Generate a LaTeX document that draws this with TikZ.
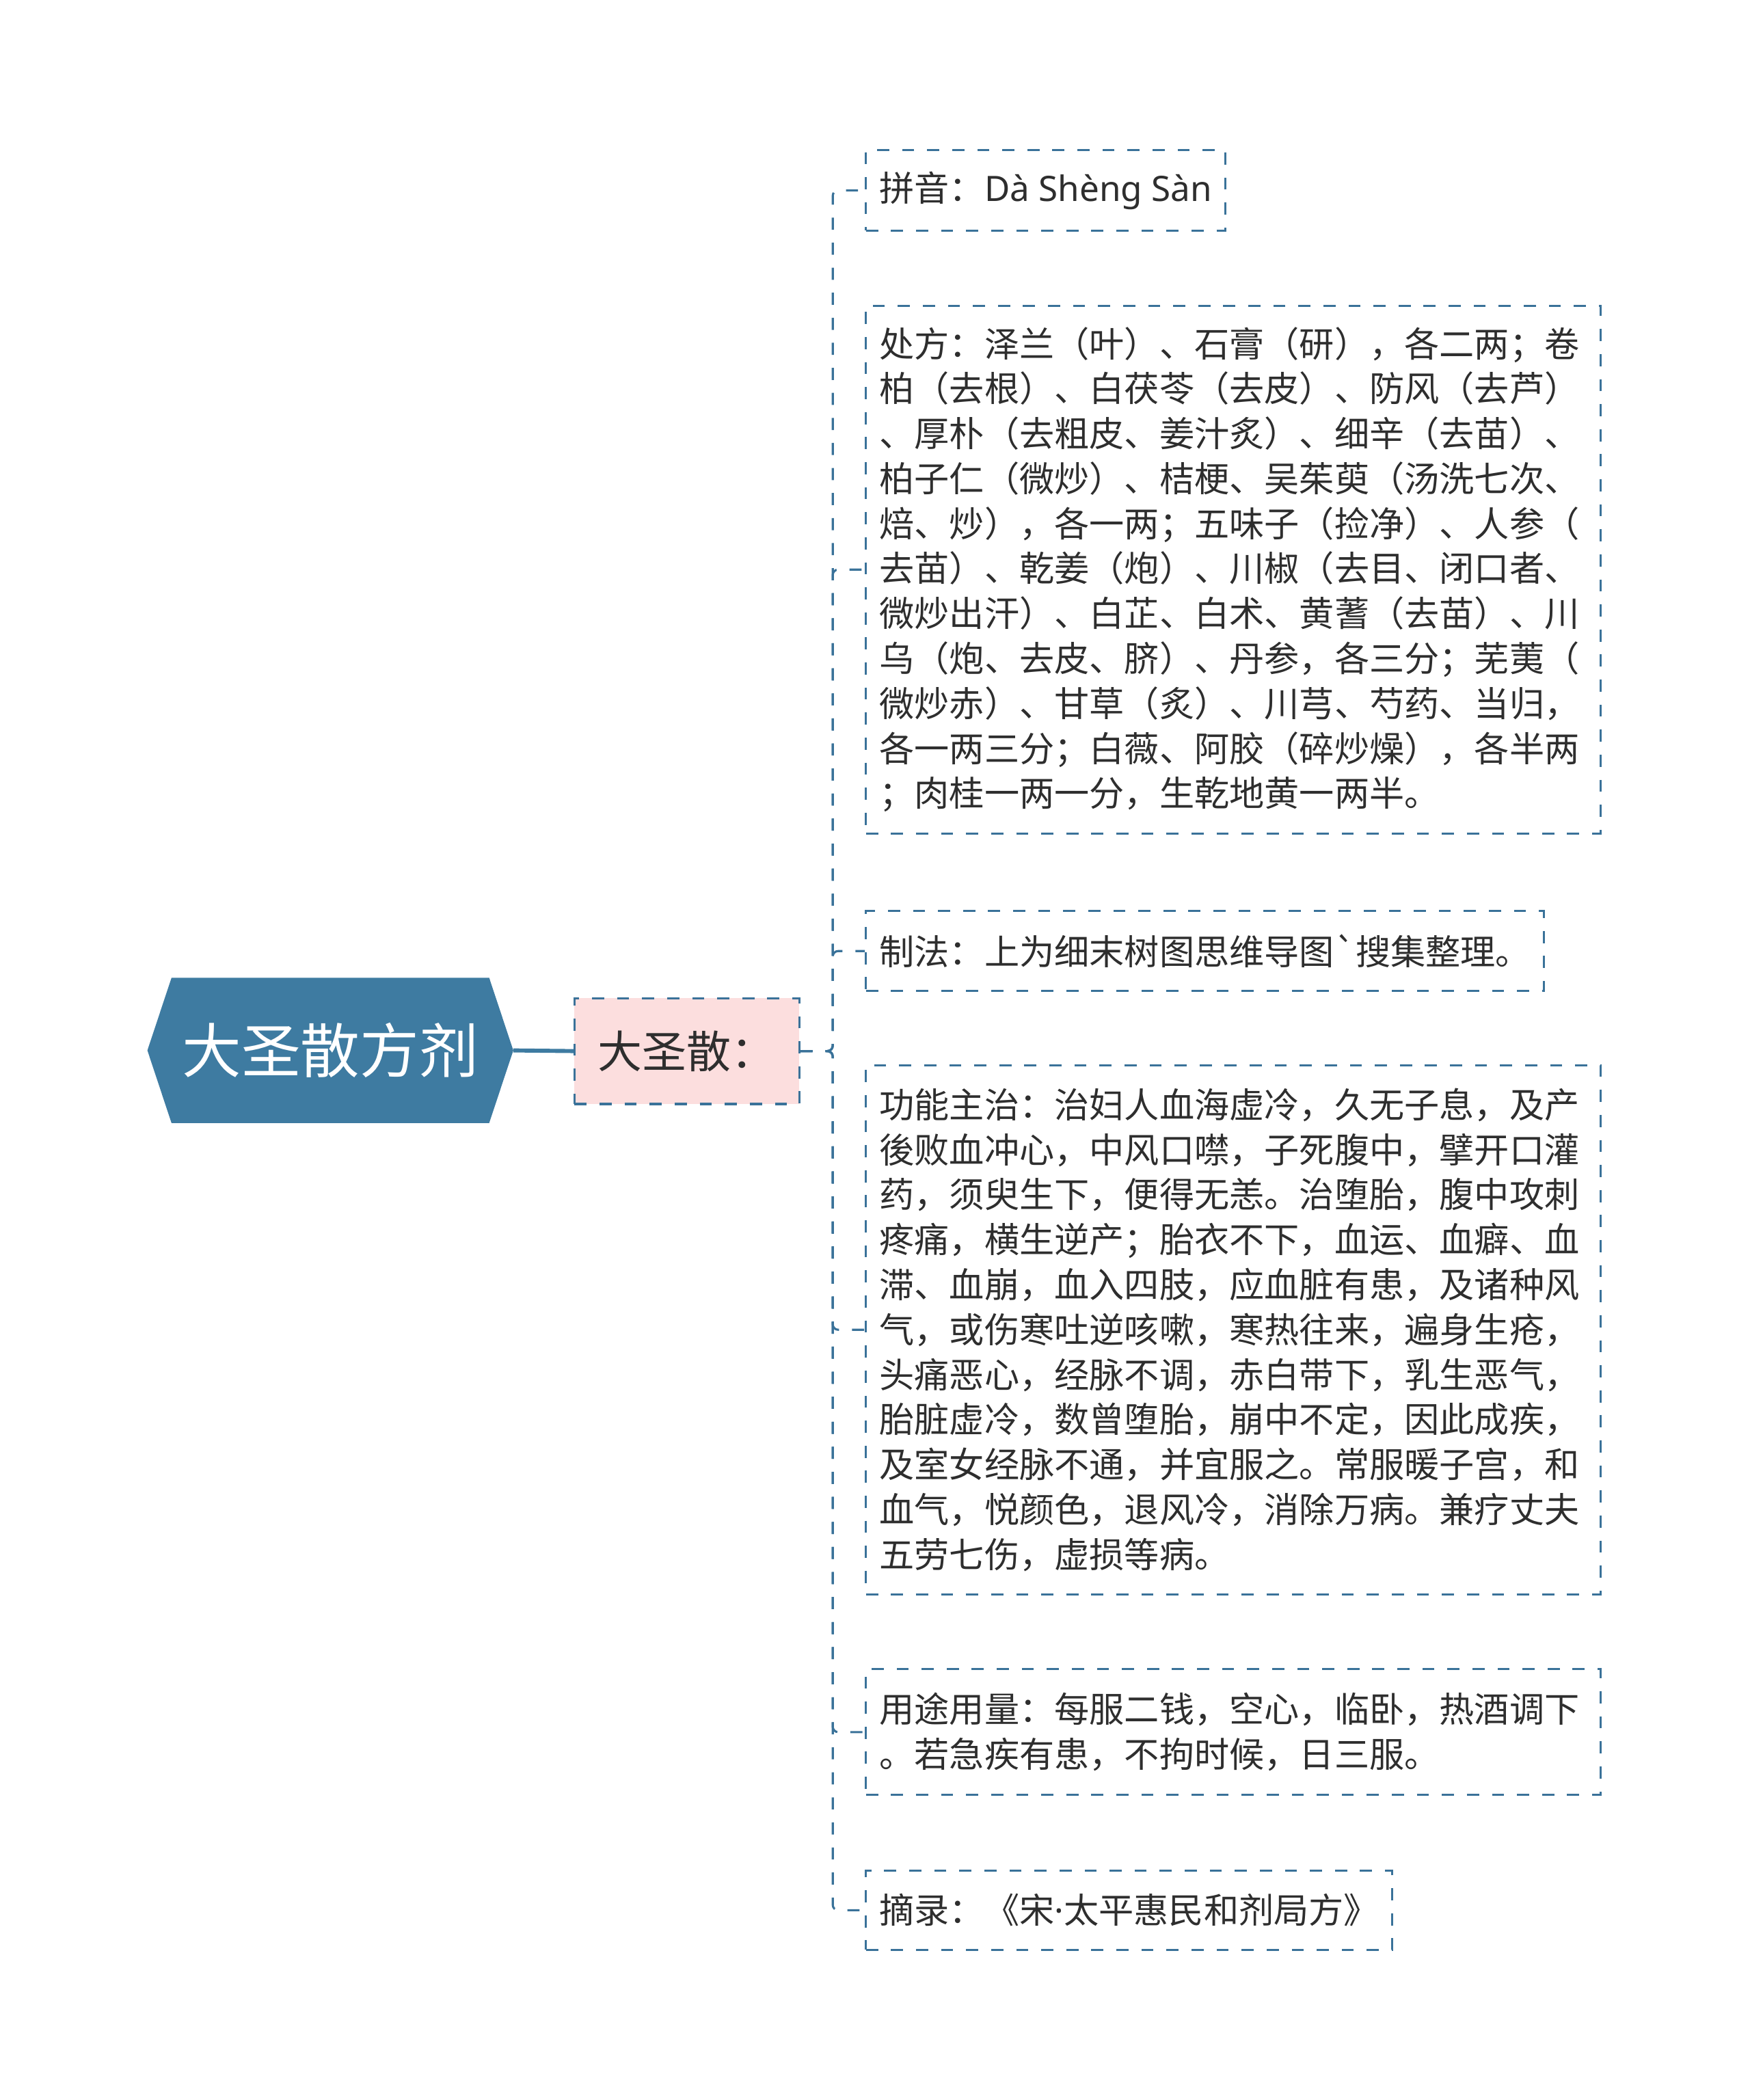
\documentclass[tikz,border=0pt]{standalone}
\usepackage{fontspec}
\setmainfont{Noto Sans CJK SC}
\newfontfamily\latinfont{Noto Sans}
\usetikzlibrary{calc}
\definecolor{mblue}{HTML}{3E7BA1}
\definecolor{dblue}{HTML}{3A7299}
\definecolor{mpink}{HTML}{FCDEDE}
\definecolor{txt}{HTML}{2E2E2E}
\newcommand{\rawgrave}{\XeTeXglyph\XeTeXcharglyph"60\relax}
\begin{document}
\begin{tikzpicture}[x=1pt,y=1pt,
  dashline/.style={draw=dblue, line width=1.6pt, dash pattern=on 9pt off 9.6pt},
  leaf/.style={dashline, text=txt, font=\fontsize{26pt}{33.4pt}\selectfont,
    inner xsep=10pt, inner ysep=0pt, anchor=west, align=left},
  bigleaf/.style={leaf, text width=525.7pt},
  conn/.style={dashline, rounded corners=4pt},
  rootnode/.style={minimum width=271.4pt, minimum height=107.5pt, inner sep=0pt},
  midnode/.style={dashline, fill=mpink, text=txt, font=\fontsize{33pt}{38pt}\selectfont,
    minimum width=167pt, minimum height=78.6pt, inner sep=0pt},
]
\useasboundingbox (0,0) rectangle (1300,-1560);

% root
\node[rootnode] (root) at (245.4,-780.3) {};
\fill[mblue] (root.west) -- ($(root.north west)+(17.9,0)$) -- ($(root.north east)+(-17.9,0)$)
  -- (root.east) -- ($(root.south east)+(-17.9,0)$) -- ($(root.south west)+(17.9,0)$) -- cycle;
\node[text=white, font=\fontsize{44pt}{50pt}\selectfont, inner sep=0pt] (roottext) at (root.center) {大圣散方剂};

% middle
\node[midnode] (mid) at (510.3,-780.8) {大圣散：};
\draw[mblue, line width=3pt] (root.east) -- (mid.west);

% leaves
\node[leaf, minimum height=59.7pt] (py) at (642.5,-141.5) {拼音：{\latinfont Dà Shèng Sàn}};

\node[bigleaf, minimum height=392pt] (cf) at (642.5,-423.1) {处方：泽兰（叶）、石膏（研），各二两；卷\\
柏（去根）、白茯苓（去皮）、防风（去芦）\\
、厚朴（去粗皮、姜汁炙）、细辛（去苗）、\\
柏子仁（微炒）、桔梗、吴茱萸（汤洗七次、\\
焙、炒），各一两；五味子（捡净）、人参（\\
去苗）、乾姜（炮）、川椒（去目、闭口者、\\
微炒出汗）、白芷、白术、黄蓍（去苗）、川\\
乌（炮、去皮、脐）、丹参，各三分；芜荑（\\
微炒赤）、甘草（炙）、川芎、芍药、当归，\\
各一两三分；白薇、阿胶（碎炒燥），各半两\\
；肉桂一两一分，生乾地黄一两半。};

\node[leaf, minimum height=59.4pt] (zf) at (642.5,-706.5) {制法：上为细末树图思维导图\rawgrave 搜集整理。};

\node[bigleaf, minimum height=393pt] (gn) at (642.5,-987.8) {功能主治：治妇人血海虚冷，久无子息，及产\\
後败血冲心，中风口噤，子死腹中，擘开口灌\\
药，须臾生下，便得无恙。治堕胎，腹中攻刺\\
疼痛，横生逆产；胎衣不下，血运、血癖、血\\
滞、血崩，血入四肢，应血脏有患，及诸种风\\
气，或伤寒吐逆咳嗽，寒热往来，遍身生疮，\\
头痛恶心，经脉不调，赤白带下，乳生恶气，\\
胎脏虚冷，数曾堕胎，崩中不定，因此成疾，\\
及室女经脉不通，并宜服之。常服暖子宫，和\\
血气，悦颜色，退风冷，消除万病。兼疗丈夫\\
五劳七伤，虚损等病。};

\node[bigleaf, minimum height=93.5pt] (yt) at (642.5,-1286.7) {用途用量：每服二钱，空心，临卧，热酒调下\\
。若急疾有患，不拘时候，日三服。};

\node[leaf, minimum height=59pt] (zl) at (642.5,-1419) {摘录：《宋{\latinfont ·}太平惠民和剂局方》};

% connectors
\coordinate (sp) at (618.6,-780.8);
\foreach \n in {py,cf,zf,gn,yt,zl}
  \draw[conn] (mid.east) -- (sp) |- (\n.west);
\end{tikzpicture}
\end{document}
